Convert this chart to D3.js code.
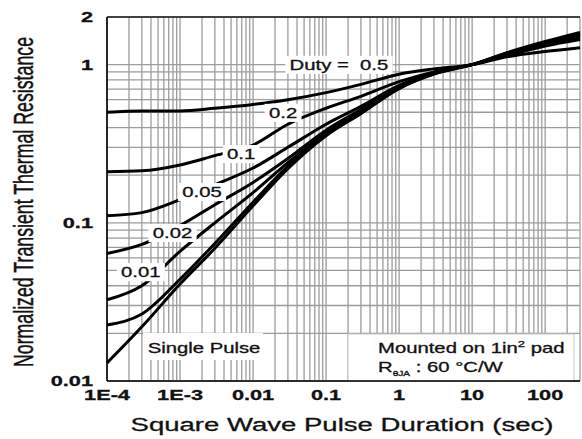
<!DOCTYPE html>
<html>
<head>
<meta charset="utf-8">
<script src="https://cdn.jsdelivr.net/npm/d3@7"></script>
<style>
body { margin: 0; background: #fff; }
text { font-family: Arial, "Liberation Sans", sans-serif; fill: #111; stroke: #111; stroke-width: 0.3px; }
</style>
</head>
<body>
<script>
var times = [1e-4, 3e-4, 1e-3, 3e-3, 0.01, 0.03, 0.1, 0.3, 1, 3, 10, 30, 100, 300];

// normalized transient thermal resistance, one list per duty cycle
var duty05  = [0.50, 0.51, 0.51, 0.53, 0.56, 0.60, 0.665, 0.75, 0.87, 0.94, 1.0, 1.12, 1.21, 1.28];
var duty02  = [0.21, 0.213, 0.232, 0.266, 0.31, 0.42, 0.53, 0.63, 0.78, 0.90, 1.0, 1.14, 1.31, 1.44];
var duty01  = [0.111, 0.116, 0.14, 0.174, 0.222, 0.30, 0.42, 0.545, 0.74, 0.89, 1.0, 1.15, 1.33, 1.48];
var duty005 = [0.064, 0.073, 0.096, 0.13, 0.18, 0.255, 0.385, 0.52, 0.72, 0.88, 1.0, 1.16, 1.35, 1.52];
var duty002 = [0.0326, 0.040, 0.066, 0.10, 0.155, 0.24, 0.37, 0.505, 0.715, 0.88, 1.0, 1.17, 1.37, 1.55];
var duty001 = [0.0226, 0.0265, 0.044, 0.074, 0.135, 0.228, 0.36, 0.495, 0.71, 0.875, 1.0, 1.18, 1.38, 1.58];
var single  = [0.013, 0.022, 0.041, 0.069, 0.128, 0.22, 0.355, 0.49, 0.705, 0.87, 1.0, 1.19, 1.40, 1.60];
var curves = [duty05, duty02, duty01, duty005, duty002, duty001, single];

// curve labels and where they sit (in data units)
var labelText = ['Duty =  0.5', '0.2', '0.1', '0.05', '0.02', '0.01', 'Single Pulse'];
var labelT = [0.15, 0.0258, 0.00686, 0.002, 7.9e-4, 2.9e-4, 0.00213];
var labelZ = [1.0, 0.497, 0.273, 0.157, 0.0865, 0.0489, 0.0162];

// tick labels
var xTicks = [1e-4, 1e-3, 0.01, 0.1, 1, 10, 100];
var xTickText = ['1E-4', '1E-3', '0.01', '0.1', '1', '10', '100'];
var yTicks = [0.01, 0.1, 1, 2];
var yTickText = ['0.01', '0.1', '1', '2'];

var sx = 1.45; // the whole picture is stretched sideways

var svg = d3.select('body').append('svg').attr('width', 582).attr('height', 439);

var x = d3.scaleLog().domain([1e-4, 300]).range([107, 580]);
var y = d3.scaleLog().domain([0.01, 2]).range([381, 17]);

// grid lines
var xGrid = [];
for (var e = -4; e <= 2; e++) {
  for (var m = 1; m <= 9; m++) {
    var v = m * Math.pow(10, e);
    if (v <= 300) xGrid.push(v);
  }
}
var yGrid = [];
for (var e2 = -2; e2 <= 0; e2++) {
  for (var m2 = 1; m2 <= 9; m2++) yGrid.push(m2 * Math.pow(10, e2));
}
yGrid.push(2);

svg.append('g').selectAll('line').data(xGrid).enter().append('line')
  .attr('x1', function(d) { return x(d); }).attr('x2', function(d) { return x(d); })
  .attr('y1', y(2)).attr('y2', y(0.01))
  .style('stroke', '#9c9c9c').style('stroke-width', 1.3);

svg.append('g').selectAll('line').data(yGrid).enter().append('line')
  .attr('y1', function(d) { return y(d); }).attr('y2', function(d) { return y(d); })
  .attr('x1', x(1e-4)).attr('x2', x(300))
  .style('stroke', '#9c9c9c').style('stroke-width', 1.3);

// note boxes
svg.append('rect').attr('x', 143).attr('y', 333).attr('width', 120).attr('height', 27).style('fill', '#fff');
svg.append('rect').attr('x', 348).attr('y', 334).attr('width', 226).attr('height', 47)
  .style('fill', '#fff').style('stroke', '#c8c8c8').style('stroke-width', 1);

// frame
svg.append('line').attr('x1', 107).attr('x2', 107).attr('y1', 17).attr('y2', 381).style('stroke', '#000').style('stroke-width', 1.6);
svg.append('line').attr('x1', 107).attr('x2', 580).attr('y1', 381).attr('y2', 381).style('stroke', '#000').style('stroke-width', 1.6);
svg.append('line').attr('x1', 107).attr('x2', 580).attr('y1', 17).attr('y2', 17).style('stroke', '#222').style('stroke-width', 1.3);

// curves
var line = d3.line()
  .x(function(d) { return x(d[0]); })
  .y(function(d) { return y(d[1]); })
  .curve(d3.curveMonotoneX);

svg.append('g').selectAll('path').data(curves).enter().append('path')
  .attr('d', function(vals) { return line(times.map(function(t, i) { return [t, vals[i]]; })); })
  .style('fill', 'none').style('stroke', '#000').style('stroke-width', 3);

// curve labels with white backing
labelText.forEach(function(s, i) {
  var g = svg.append('g')
    .attr('transform', 'translate(' + x(labelT[i]) + ',' + y(labelZ[i]) + ') scale(' + sx + ',1)');
  var r = g.append('rect').style('fill', '#fff');
  var t = g.append('text').attr('text-anchor', 'middle').attr('dy', '0.36em')
    .style('font-size', '14px').style('white-space', 'pre').text(s);
  var b = t.node().getBBox();
  if (i < labelText.length - 1) {
    r.attr('x', b.x - 3).attr('y', b.y - 1).attr('width', b.width + 6).attr('height', b.height + 2);
  }
});

// mounted note
var note = svg.append('g').attr('transform', 'translate(378,353) scale(' + sx + ',1)');
var n1 = note.append('text').style('font-size', '14px');
n1.append('tspan').text('Mounted on 1in');
n1.append('tspan').attr('dy', -6).style('font-size', '9px').text('2');
n1.append('tspan').attr('dy', 6).text(' pad');
var note2 = svg.append('g').attr('transform', 'translate(378,372) scale(' + sx + ',1)');
var n2 = note2.append('text').style('font-size', '14px');
n2.append('tspan').text('R');
n2.append('tspan').attr('dy', 4).style('font-size', '7px').text('\u03b8JA');
n2.append('tspan').attr('dy', -4).text(' : 60 \u00b0C/W');

// x tick labels
svg.append('g').selectAll('g').data(xTicks).enter().append('g')
  .attr('transform', function(d) { return 'translate(' + x(d) + ',395) scale(' + sx + ',1)'; })
  .append('text').attr('text-anchor', 'middle').attr('dy', '0.36em')
  .style('font-size', '15px').style('font-weight', 'bold')
  .text(function(d, i) { return xTickText[i]; });

// y tick labels
svg.append('g').selectAll('g').data(yTicks).enter().append('g')
  .attr('transform', function(d) { return 'translate(93,' + y(d) + ') scale(' + sx + ',1)'; })
  .append('text').attr('text-anchor', 'end').attr('dy', '0.36em')
  .style('font-size', '15px').style('font-weight', 'bold')
  .text(function(d, i) { return yTickText[i]; });

// axis titles
svg.append('g').attr('transform', 'translate(342,431) scale(' + sx + ',1)')
  .append('text').attr('text-anchor', 'middle').style('font-size', '19px')
  .text('Square Wave Pulse Duration (sec)');

svg.append('g').attr('transform', 'translate(33,202) scale(1.5,1) rotate(-90)')
  .append('text').attr('text-anchor', 'middle').style('font-size', '18px')
  .attr('textLength', 330).attr('lengthAdjust', 'spacingAndGlyphs')
  .text('Normalized Transient Thermal Resistance');
</script>
</body>
</html>
